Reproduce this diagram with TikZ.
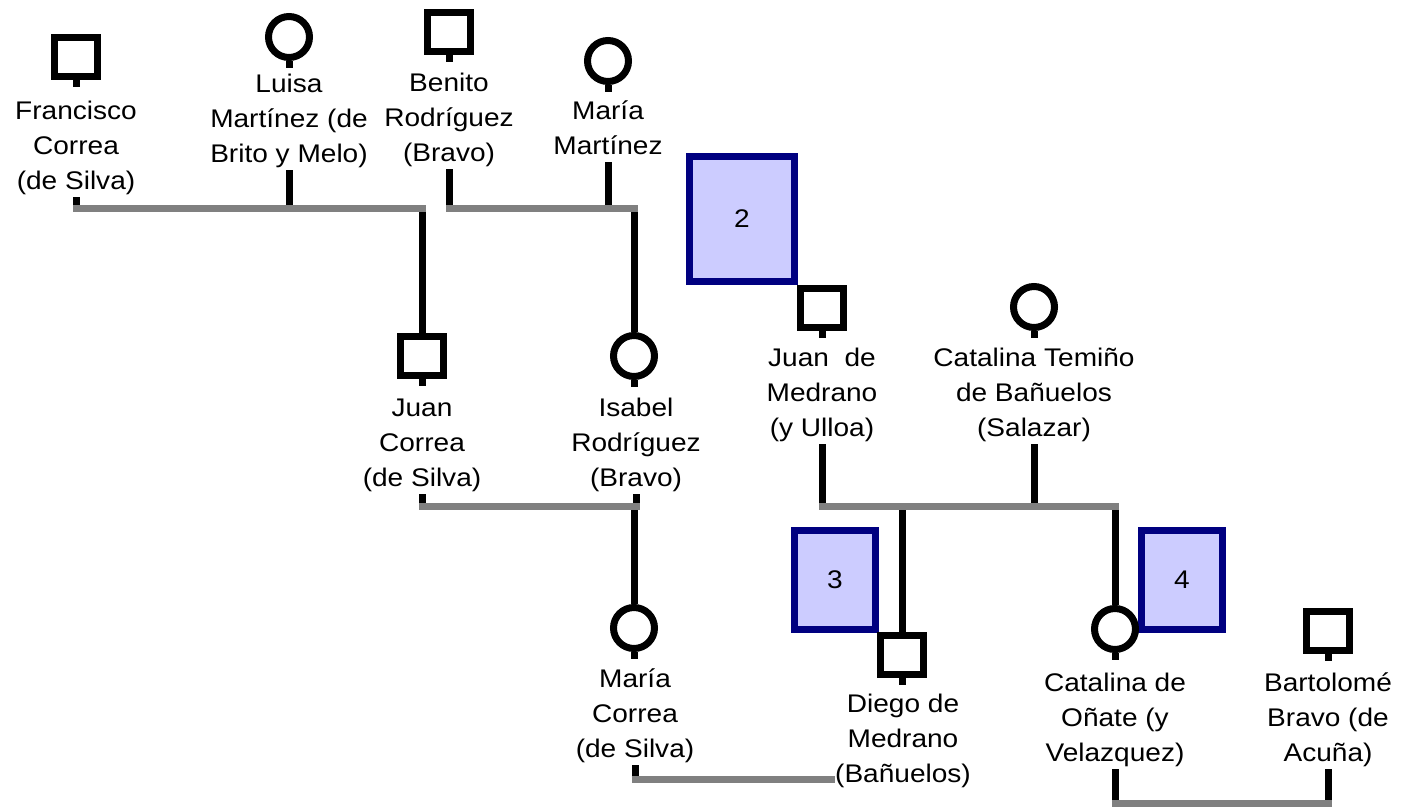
\documentclass[tikz,border=0pt]{standalone}
\usepackage{fontspec}
\setmainfont{Liberation Sans}[FakeStretch=1.1]
\usetikzlibrary{positioning}
\definecolor{lineGray}{HTML}{808080}
\definecolor{noteFill}{HTML}{CCCCFF}
\definecolor{noteEdge}{HTML}{000080}
\newcommand\nstrut{\rule[-8pt]{0pt}{32pt}}

\begin{document}
\begin{tikzpicture}[x=1pt, y=-1pt,
    every node/.style={font=\fontsize{25.5}{35}\selectfont},
    male/.style={draw, line width=7pt, minimum width=43pt, minimum height=39pt, inner sep=0pt, fill=white},
    female/.style={draw, circle, line width=7pt, minimum size=41pt, inner sep=0pt, fill=white},
    pname/.style={align=center, inner sep=0pt, anchor=north},
    stem/.style={line width=7pt},
    union/.style={line width=7pt, lineGray, line cap=rect},
    note/.style={draw=noteEdge, fill=noteFill, line width=7pt, minimum width=81pt, minimum height=99pt}]
    \useasboundingbox (0,0) rectangle (1401,809);
    % notes
    \node[note, minimum width=105pt, minimum height=125pt] (n2) at (742,219) {2};
    \node[note] (n3) at (835,580) {3};
    \node[note] (n4) at (1182,580) {4};
    % first generation
    \node[male] (fc) at (76,57) {};
    \node[pname] (fc-n) at (76,95) {\nstrut Francisco\\Correa\\(de Silva)\nstrut};
    \node[female] (lm) at (289,37) {};
    \node[pname] (lm-n) at (289,68) {\nstrut Luisa\\Martínez (de\\Brito y Melo)\nstrut};
    \node[male] (br) at (449,32) {};
    \node[pname] (br-n) at (449,67) {\nstrut Benito\\Rodríguez\\(Bravo)\nstrut};
    \node[female] (mm) at (608,61) {};
    \node[pname] (mm-n) at (608,95) {\nstrut María\\Martínez\nstrut};
    % second generation
    \node[male] (jc) at (422,356) {};
    \node[pname] (jc-n) at (422,392) {\nstrut Juan\\Correa\\(de Silva)\nstrut};
    \node[female] (ir) at (634,356) {};
    \node[pname] (ir-n) at (636,392) {\nstrut Isabel\\Rodríguez\\(Bravo)\nstrut};
    \node[male] (jm) at (822,308) {};
    \node[pname] (jm-n) at (822,342) {\nstrut Juan\ \ de\\Medrano\\(y Ulloa)\nstrut};
    \node[female] (ct) at (1034,307) {};
    \node[pname] (ct-n) at (1034,342) {\nstrut Catalina Temiño\\de Bañuelos\\(Salazar)\nstrut};
    % third generation
    \node[female] (mc) at (634,628) {};
    \node[pname] (mc-n) at (635,663) {\nstrut María\\Correa\\(de Silva)\nstrut};
    \node[male] (dm) at (902,655) {};
    \node[pname] (dm-n) at (903,688) {\nstrut Diego de\\Medrano\\(Bañuelos)\nstrut};
    \node[female] (co) at (1115,629) {};
    \node[pname] (co-n) at (1115,667) {\nstrut Catalina de\\Oñate (y\\Velazquez)\nstrut};
    \node[male] (bb) at (1328,631) {};
    \node[pname] (bb-n) at (1328,667) {\nstrut Bartolomé\\Bravo (de\\Acuña)\nstrut};
    % union levels
    \coordinate (u1) at (0,208);
    \coordinate (u2) at (0,208);
    \coordinate (u3) at (0,506);
    \coordinate (u4) at (0,506);
    \coordinate (u5) at (0,779);
    \coordinate (u6) at (0,803);
    % ticks and stems
    \foreach \p in {fc,lm,br,mm,jc,ir,jm,ct,mc,dm,co,bb}
      \draw[stem] (\p.south) -- ++(0,7);
    \foreach \p/\u in {fc/u1,lm/u1,br/u2,mm/u2,jc/u3,ir/u3,jm/u4,ct/u4,mc/u5,co/u6,bb/u6}
      \draw[stem] (\p-n.south) -- (\p-n.south |- \u);
    % children
    \draw[stem] (jc.north |- u1) -- (jc.north);
    \draw[stem] (ir.north |- u2) -- (ir.north);
    \draw[stem] (mc.north |- u3) -- (mc.north);
    \draw[stem] (dm.north |- u4) -- (dm.north);
    \draw[stem] (co.north |- u4) -- (co.north);
    % couples
    \draw[union] (fc-n.south |- u1) -- (jc.north |- u1);
    \draw[union] (br-n.south |- u2) -- (ir.north |- u2);
    \draw[union] (jc-n.south |- u3) -- (ir-n.south |- u3);
    \draw[union] (jm-n.south |- u4) -- (co.north |- u4);
    \draw[union, line cap=butt] ([xshift=-3.5pt]mc-n.south |- u5) -- (dm-n.west |- u5);
    \draw[union] (co-n.south |- u6) -- (bb-n.south |- u6);
\end{tikzpicture}
\end{document}
